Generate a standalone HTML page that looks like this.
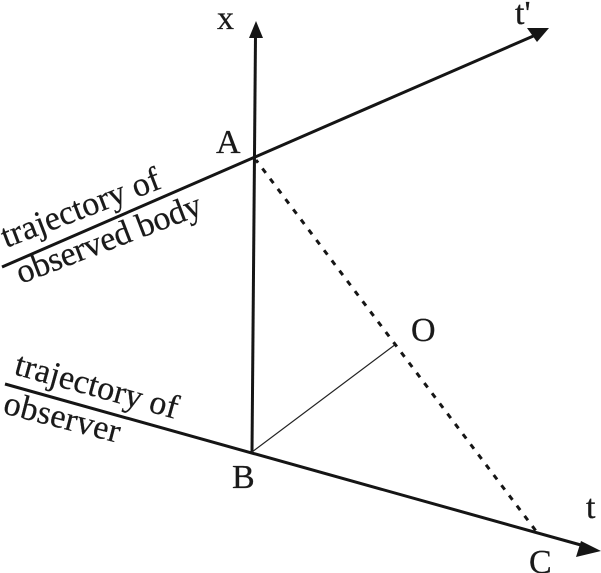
<!DOCTYPE html>
<html><head><meta charset="utf-8"><style>html,body{margin:0;padding:0;background:#fff}svg{display:block}text{font-family:"Liberation Serif",serif;font-size:34px;fill:#1a1a1a;stroke:#1a1a1a;stroke-width:.25px}</style></head><body>
<svg width="601" height="573" viewBox="0 0 601 573" xmlns="http://www.w3.org/2000/svg">
<g stroke="#151515" fill="none" stroke-width="3">
<line x1="255.5" y1="35" x2="252" y2="452"/>
<line x1="2" y1="267" x2="538" y2="34"/>
<line x1="5" y1="384" x2="588" y2="547"/>
</g>
<line x1="252" y1="452" x2="396" y2="344" stroke="#222" stroke-width="1.2"/>
<line x1="256" y1="160" x2="536" y2="531" stroke="#151515" stroke-width="3" stroke-dasharray="5.5 7.3" stroke-dashoffset="2.15"/>
<polygon points="256,21 263,38 249,38" fill="#151515"/>
<polygon points="549,28 527,28 537,42" fill="#151515"/>
<polygon points="601,551 581,541 576,557" fill="#151515"/>
<text x="217" y="29">x</text>
<text x="515" y="24">t'</text>
<text x="216" y="153">A</text>
<text x="232" y="488">B</text>
<text x="411" y="341">O</text>
<text x="586" y="518">t</text>
<text x="529" y="573">C</text>
<text transform="translate(6,248) rotate(-21)" textLength="168">trajectory of</text>
<text transform="translate(21,284) rotate(-21)" textLength="196">observed body</text>
<text transform="translate(13,374) rotate(15.5)" textLength="168">trajectory of</text>
<text transform="translate(2,413) rotate(14.5)" textLength="119">observer</text>
</svg>
</body></html>
